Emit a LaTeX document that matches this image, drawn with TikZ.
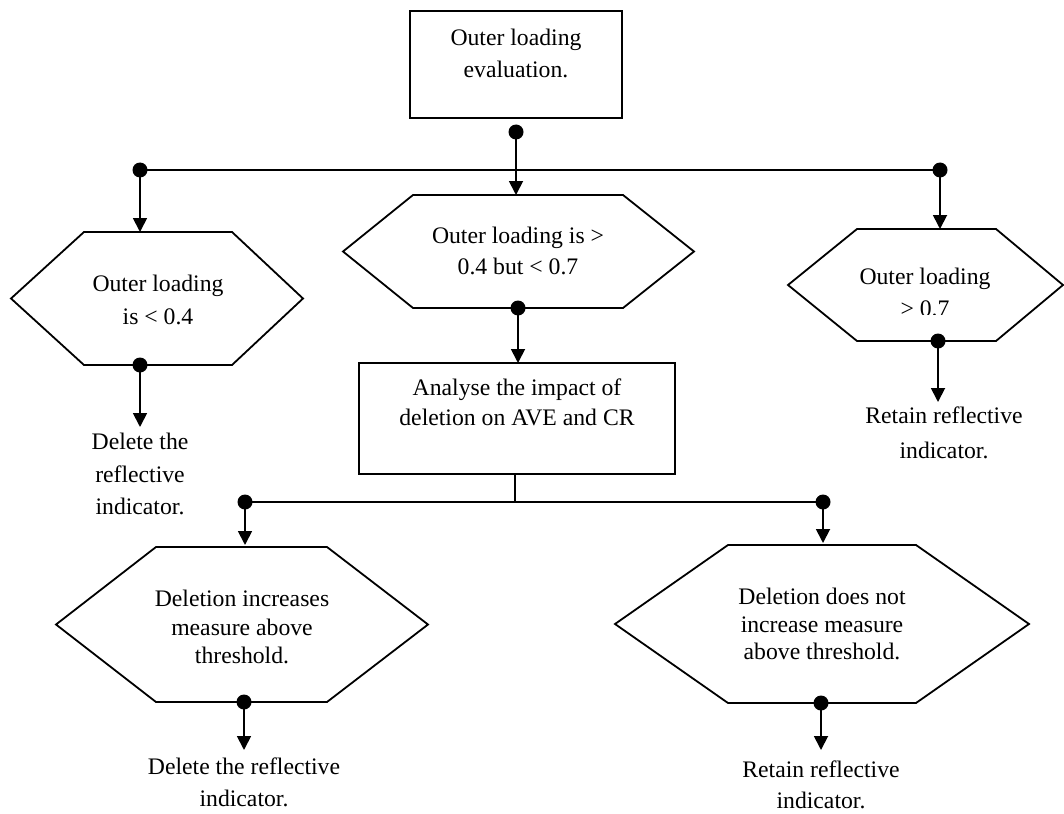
\documentclass[tikz,border=0pt]{standalone}
\usepackage{fontspec}
\setmainfont{Liberation Serif}
\usetikzlibrary{arrows.meta}

\tikzset{
  flow/.style={line width=1.8pt},
  arr/.style={flow, -{Triangle[width=14pt,length=14pt]}},
  boxshape/.style={draw, line width=1.8pt, rectangle, inner sep=0pt},
  txt/.style={font=\fontsize{23.7}{#1}\selectfont, align=center, inner sep=0pt},
  txt/.default=31,
}

% hexagon: #1 name, #2 left tip x, #3 top-edge left x, #4 top-edge right x,
% #5 right tip x, #6 top y, #7 bottom y
\newcommand\hexbox[7]{%
  \coordinate (#1-l) at (#2,{(#6+#7)/2});
  \coordinate (#1-tl) at (#3,#6);
  \coordinate (#1-tr) at (#4,#6);
  \coordinate (#1-r) at (#5,{(#6+#7)/2});
  \coordinate (#1-br) at (#4,#7);
  \coordinate (#1-bl) at (#3,#7);
  \draw[flow, line join=miter] (#1-tl) -- (#1-tr) -- (#1-r) -- (#1-br) -- (#1-bl) -- (#1-l) -- cycle;
}

\begin{document}
\begin{tikzpicture}[x=1pt, y=-1pt]
\useasboundingbox (0,0) rectangle (1064,813);

% ---- boxes ----
\node[boxshape, minimum width=212pt, minimum height=107pt] (eval) at (516,64.5) {};
\node[txt=32] (evalT) at (516,53) {Outer loading\\evaluation.};

\node[boxshape, minimum width=316pt, minimum height=111pt] (analyse) at (517,418.5) {};
\node[txt=30] (analyseT) at (517,402) {Analyse the impact of\\deletion on AVE and CR};

% ---- hexagons ----
\hexbox{hexA}{11}{84}{232}{303}{232}{365}
\node[txt=33] (hexAT) at (158,300) {Outer loading\\is < 0.4};

\hexbox{hexB}{343}{413}{623}{694}{195}{308}
\node[txt=31] (hexBT) at (518,251) {Outer loading is >\\0.4 but < 0.7};

\hexbox{hexC}{788}{857}{996}{1063}{229}{341}
\begin{scope}
  \clip (840,250) rectangle (1010,314);
  \node[txt=32] (hexCT) at (925,292) {Outer loading\\> 0.7};
\end{scope}

\hexbox{hexD}{56}{156}{327}{428}{547}{702}
\node[txt=28.5] (hexDT) at (242,627) {Deletion increases\\measure above\\threshold.};

\hexbox{hexE}{615}{728}{916}{1029}{545}{703}
\node[txt=27.5] (hexET) at (822,624) {Deletion does not\\increase measure\\above threshold.};

% ---- outcome texts ----
\node[txt=32.5] (outA) at (140,474) {Delete the\\reflective\\indicator.};
\node[txt=35] (outC) at (944,433) {Retain reflective\\indicator.};
\node[txt=32] (outD) at (244,782) {Delete the reflective\\indicator.};
\node[txt=31] (outE) at (821,785) {Retain reflective\\indicator.};

% ---- junction points ----
\coordinate (d0) at (516,132);
\coordinate (jL) at (140,170);
\coordinate (jR) at (940,170);
\coordinate (dA) at (140,365);
\coordinate (dB) at (518,308);
\coordinate (dC) at (938,341);
\coordinate (jL2) at (245,502);
\coordinate (jR2) at (823,502);
\coordinate (dD) at (244,702);
\coordinate (dE) at (821,703);

% ---- connectors ----
\draw[flow] (jL) -- (jR);
\draw[arr] (d0) -- (516,195);
\draw[arr] (jL) -- (140,232);
\draw[arr] (jR) -- (940,229);
\draw[arr] (dA) -- (140,427);
\draw[arr] (dB) -- (518,363);
\draw[arr] (dC) -- (938,402);
\draw[flow] (analyse.south -| 515,0) -- (515,502);
\draw[flow] (jL2) -- (jR2);
\draw[arr] (jL2) -- (245,545);
\draw[arr] (jR2) -- (823,543);
\draw[arr] (dD) -- (244,750);
\draw[arr] (dE) -- (821,750);

% ---- junction dots ----
\foreach \p in {d0,jL,jR,dA,dB,dC,jL2,jR2,dD,dE}
  \fill (\p) circle (7.5pt);
\end{tikzpicture}
\end{document}
